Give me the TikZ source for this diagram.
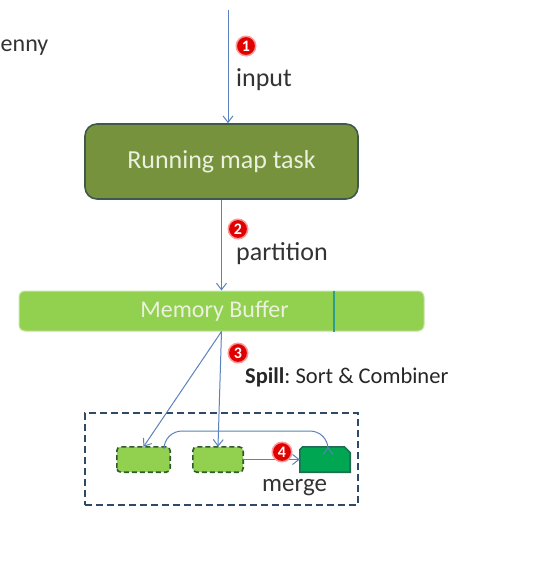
\documentclass[tikz,border=0pt]{standalone}
\usepackage{fontspec}
\setmainfont{Carlito}
\usetikzlibrary{arrows.meta}
\definecolor{arr}{HTML}{5A82BC}
\definecolor{olive}{HTML}{76923C}
\definecolor{olivedk}{HTML}{3F5A4A}
\definecolor{lgreen}{HTML}{92D050}
\definecolor{lgreenbd}{HTML}{C6E3A4}
\definecolor{cream}{HTML}{EBF1DE}
\definecolor{dgreen}{HTML}{00A651}
\definecolor{dgreenbd}{HTML}{1F6B55}
\definecolor{boxdash}{HTML}{2E4A66}
\definecolor{smalldash}{HTML}{2F5A2A}
\definecolor{badgered}{HTML}{E00000}
\definecolor{lbl}{HTML}{333333}
\definecolor{vline}{HTML}{2E9E8C}
\begin{document}
\begin{tikzpicture}[x=1pt,y=-1pt,
  conn/.style={draw=arr,line width=1pt,-{Straight Barb[length=6.5pt,width=10pt]}},
  badge/.style={circle,fill=badgered,draw=red!40,line width=1.5pt,minimum size=19.5pt,inner sep=0pt,text=white,font=\fontsize{16}{16}\selectfont\bfseries},
  lab/.style={anchor=west,inner sep=0pt,text=lbl,font=\fontsize{26}{28}\selectfont},
  slot/.style={rectangle,minimum height=25pt,inner sep=0pt},
  slotdash/.style={draw=smalldash,fill=lgreen,line width=1.6pt,dash pattern=on 5pt off 3pt,rounded corners=4pt},
  slotfull/.style={draw=dgreenbd,fill=dgreen,line width=1.6pt}]
\useasboundingbox (0,0) rectangle (545,565);
% stray text at left edge
\node[anchor=west,inner sep=0pt,text=lbl,font=\fontsize{24}{26}\selectfont] (stray) at (0.5,48) {enny};
% main boxes
\node[draw=olivedk,fill=olive,line width=1.6pt,rounded corners=12pt,minimum width=273pt,minimum height=75pt,text=cream,font=\fontsize{26}{28}\selectfont] (maptask) at (221.5,161.5) {Running map task};
\node[draw=lgreenbd,fill=lgreen,line width=1pt,rounded corners=6pt,minimum width=405pt,minimum height=40pt,text=cream,font=\fontsize{24}{26}\selectfont] (membuf) at (221.5,311) {\hspace*{-14pt}Memory Buffer};
\coordinate (vl) at (334,0);
\draw[vline,line width=1.2pt] (membuf.north -| vl) -- (membuf.south -| vl);
% spill group
\node[draw=boxdash,dash pattern=on 7pt off 4pt,line width=2pt,minimum width=273pt,minimum height=92pt] (group) at (221.5,459) {};
\node[slot,minimum width=53pt] (s1) at (143.5,459.5) {};
\node[slot,minimum width=50pt] (s2) at (218,459.5) {};
\node[slot,minimum width=50pt] (s3) at (325,459.5) {};
\draw[slotdash] (s1.south west) rectangle (s1.north east);
\draw[slotdash] (s2.south west) rectangle (s2.north east);
\draw[slotfull] (s3.south west) -- ([yshift=-3pt]s3.north west) -- ([xshift=3pt]s3.north west) -- ([xshift=-6pt]s3.north east) -- ([yshift=-6pt]s3.north east) -- (s3.south east) -- cycle;
% connectors
\coordinate (top) at (228,10);
\draw[conn] (top) -- (top |- maptask.north);
\draw[conn] (maptask.south) -- (membuf.north);
\draw[conn] (membuf.south) -- (s1.north);
\draw[conn] (membuf.south) -- (s2.north);
\draw[conn] (s2.east) -- (s3.west);
\coordinate (c1) at (164,448);
\coordinate (c2) at (328,447);
\draw[conn,rounded corners=18pt] (c1) -- (164,431) -- (328,431) -- (c2);
% badges and labels
\node[badge] (b1) at (246,46) {1};
\node[lab] (linput) at (236,80) {input};
\node[badge] (b2) at (238,229) {2};
\node[lab] (lpart) at (236,254) {partition};
\node[badge] (b3) at (238,353) {3};
\node[lab,font=\fontsize{22.5}{24}\selectfont,text=black!85] (lspill) at (245,377) {\textbf{Spill}:\ Sort \& Combiner};
\node[badge] (b4) at (282,452) {4};
\node[lab,font=\fontsize{25}{27}\selectfont] (lmerge) at (262,488) {merge};
\end{tikzpicture}
\end{document}
